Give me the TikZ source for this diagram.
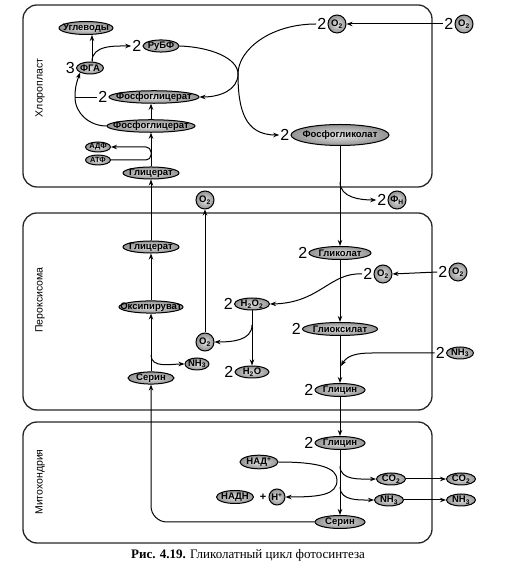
\documentclass[tikz,border=0pt]{standalone}
\usepackage{fontspec}
\setmainfont{Liberation Serif}
\setsansfont{Liberation Sans}
\usetikzlibrary{shapes.geometric,arrows.meta}
\newcommand{\mt}[1]{\makebox[0pt]{#1}}
\tikzset{
  met/.style={ellipse, draw, line width=1pt, inner sep=0pt, minimum width=#1, minimum height=12,
    shading=radial, inner color=gray!22, outer color=gray!85, font=\sffamily\bfseries\fontsize{9.5}{10}\selectfont},
  met/.default=30,
  sm/.style={minimum height=10, font=\sffamily\bfseries\fontsize{7.5}{8}\selectfont},
  mol/.style={circle, draw, line width=1pt, inner sep=0pt, minimum size=18,
    shading=radial, inner color=gray!22, outer color=gray!85, font=\sffamily\bfseries\fontsize{9.5}{10}\selectfont},
  num/.style={inner sep=1pt, font=\sffamily\fontsize{16}{16}\selectfont},
  arr/.style={-{Stealth[length=6pt,width=4.5pt]}, line width=1pt},
  box/.style={draw=black!85, line width=1.3pt, rounded corners=14},
  side/.style={rotate=90, font=\sffamily\fontsize{10.5}{12}\selectfont}
}
\begin{document}
\begin{tikzpicture}[x=1pt,y=1pt]
\useasboundingbox (0,0) rectangle (521,567);
% compartments
\draw[box] (23,380) rectangle (432,562);
\draw[box] (23,157) rectangle (432,354);
\draw[box] (23,24) rectangle (432,145);
\node[side] (lchl) at (40,479) {Хлоропласт};
\node[side] (lper) at (40,267) {Пероксисома};
\node[side] (lmit) at (40,85) {Митохондрия};

% chloroplast
\node[met=54, minimum height=13] (ugl) at (86,539) {\mt{Углеводы}};
\node[met=36, label={[num,name=n2rubf]left:2}] (rubf) at (161,521) {\mt{РуБФ}};
\node[met=27, label={[num,name=n3fga]left:3}] (fga) at (90,499) {\mt{ФГА}};
\node[met=90, label={[num,name=n2pg]left:2}] (pgu) at (154,470) {\mt{Фосфоглицерат}};
\node[met=88] (pgl) at (151,441) {\mt{Фосфоглицерат}};
\node[met=25, sm] (adf) at (98,420) {\mt{АДФ}};
\node[met=25, sm] (atf) at (98,407) {\mt{АТФ}};
\node[met=56] (glc) at (151,394) {\mt{Глицерат}};
\node[mol, label={[num,name=n2o2a]left:2}] (o2a) at (337,543) {O\textsubscript{2}};
\node[mol, label={[num,name=n2o2b]left:2}] (o2b) at (464,543) {O\textsubscript{2}};
\node[met=98, minimum height=21, label={[num,name=n2fgk]left:2}] (fgk) at (340,432) {\mt{Фосфогликолат}};
\node[mol, label={[num,name=n2fn]left:2}] (fn) at (397,367) {Ф\textsubscript{Н}};

% peroxisome
\node[mol] (o2c) at (205,367) {O\textsubscript{2}};
\node[met=56] (glcp) at (151,320) {\mt{Глицерат}};
\node[met=64] (oxp) at (151,260) {\mt{Оксипируват}};
\node[met=24] (nh3p) at (197,203) {\mt{NH\textsubscript{3}}};
\node[met=46] (serp) at (151,189) {\mt{Серин}};
\node[mol] (o2d) at (205,225) {O\textsubscript{2}};
\node[met=35, label={[num,name=n2h2o2]left:2}] (h2o2) at (252,263) {\mt{H\textsubscript{2}O\textsubscript{2}}};
\node[met=34, label={[num,name=n2h2o]left:2}] (h2o) at (252,195) {\mt{H\textsubscript{2}O}};
\node[met=62, minimum height=13, label={[num,name=n2glk]left:2}] (glk) at (340,314) {\mt{Гликолат}};
\node[mol, label={[num,name=n2o2e]left:2}] (o2e) at (383,293) {O\textsubscript{2}};
\node[mol, label={[num,name=n2o2f]left:2}] (o2f) at (458,295) {O\textsubscript{2}};
\node[met=75, minimum height=13, label={[num,name=n2glo]left:2}] (glo) at (340,238) {\mt{Глиоксилат}};
\node[met=27, label={[num,name=n2nh3o]left:2}] (nh3o) at (460,214) {\mt{NH\textsubscript{3}}};
\node[met=50, minimum height=13, label={[num,name=n2gly]left:2}] (gly) at (340,177) {\mt{Глицин}};

% mitochondrion
\node[met=50, minimum height=13, label={[num,name=n2glym]left:2}] (glym) at (340,124) {\mt{Глицин}};
\node[met=38, minimum height=13] (nad) at (259,105) {\mt{НАД\textsuperscript{+}}};
\node[met=37, minimum height=13] (nadh) at (235,70) {\mt{НАДН}};
\node[font=\sffamily\bfseries\fontsize{11}{11}\selectfont] (plus) at (263,70) {+};
\node[mol, minimum size=16] (hp) at (277,70) {H\textsuperscript{+}};
\node[met=29] (co2a) at (391,88) {\mt{CO\textsubscript{2}}};
\node[met=29] (co2b) at (461,88) {\mt{CO\textsubscript{2}}};
\node[met=29] (nh3a) at (389,67) {\mt{NH\textsubscript{3}}};
\node[met=29] (nh3b) at (461,67) {\mt{NH\textsubscript{3}}};
\node[met=50, minimum height=13] (serm) at (340,45) {\mt{Серин}};

\node[font=\fontsize{13}{15}\selectfont] (cap) at (248,12) {\textbf{Рис. 4.19.} Гликолатный цикл фотосинтеза};

% branch points
\coordinate (jx) at (238,493);
\coordinate (jfga) at (75,470);
\coordinate (bfn) at (340,385);
\coordinate (bo2) at (252,242);
\coordinate (jnh3) at (341,201);
\coordinate (bnh3) at (151,212);
\coordinate (bco2) at (340,101);
\coordinate (bnh3m) at (340,80);
\coordinate (jnad) at (337,87);

% Calvin cycle
\draw[arr] ([xshift=2]fga.north) -- ([xshift=2]fga.north |- ugl.south);
\draw[arr] ([xshift=2]fga.north) to[out=90,in=180] (n2rubf.west);
\draw[arr] (rubf.east) .. controls (210,520) and (238,509) .. (jx) .. controls (238,477) and (220,470) .. (pgu.east);
\draw[arr] (pgl.west) to[out=180,in=-90] (jfga) to[out=90,in=-110] (fga.south west);
\draw (n2pg.west) -- (jfga);
\draw[arr] (pgl.north) -- (pgl.north |- pgu.south);
\draw[arr] (glc.north) -- (pgl.south);
\draw[arr, rounded corners=5] (atf.east) -- (atf.east -| glc.north) -- (adf.east -| glc.north) -- (adf.east);

% oxygenase
\draw[arr] (n2o2b.west) -- (o2a.east);
\draw[arr] (n2o2a.west) .. controls (270,543) and (238,517) .. (jx) .. controls (238,457) and (245,432) .. (n2fgk.west);
\draw[arr] (fgk.south) -- (glk.north);
\draw[arr] (bfn) to[out=-90,in=180] (n2fn.west);

% peroxisome
\draw[arr] (glcp.north) -- (glc.south);
\draw[arr] (oxp.north) -- (glcp.south);
\draw[arr] (serp.north) -- (oxp.south);
\draw[arr] (bnh3) to[out=-90,in=180] (nh3p.west);
\draw[arr] (o2d.north) -- (o2c.south);
\draw[arr] (n2o2f.west) -- (o2e.east);
\draw[arr] (n2o2e.west) .. controls (330,295) and (320,264) .. (h2o2.east);
\draw[arr] (h2o2.south) -- (h2o.north);
\draw[arr] (bo2) to[out=-90,in=0] (o2d.east);
\draw[arr] (glk.south) -- (glo.north);
\draw[arr] (glo.south) -- (gly.north);
\draw[arr] (n2nh3o.west) -- (372,214) to[out=180,in=60] (jnh3);
\draw[arr] (gly.south) -- (glym.north);

% mitochondrion
\draw[arr] (glym.south) -- (serm.north);
\draw[arr] (bco2) to[out=-90,in=180] (co2a.west);
\draw[arr] (bnh3m) to[out=-90,in=180] (nh3a.west);
\draw[arr] (co2a.east) -- (co2b.west);
\draw[arr] (nh3a.east) -- (nh3b.west);
\draw[arr] (nad.east) .. controls (320,105) and (337,99) .. (jnad) .. controls (337,72) and (320,70) .. (hp.east);
\draw[arr, rounded corners=16] (serm.west) -- (serm.west -| serp.south) -- (serp.south);
\end{tikzpicture}
\end{document}
